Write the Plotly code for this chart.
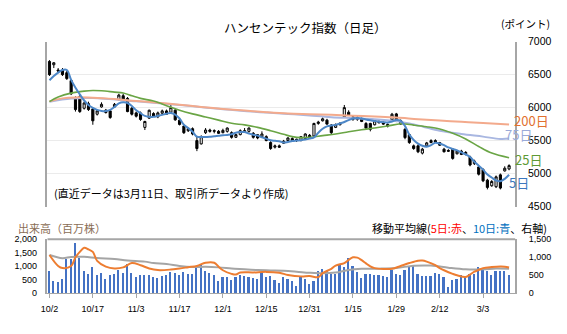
import plotly.graph_objects as go

# ---------------- data ----------------
tick_idx = [0, 10, 20, 30, 40, 50, 60, 70, 80, 90, 100]
tick_text = ["10/2", "10/17", "11/3", "11/17", "12/1", "12/15", "12/31", "1/15", "1/29", "2/12", "3/3"]

opens = [6700, 6650, 6570, 6570, 6530, 6410, 6150, 6170, 5990, 6060,
         5980, 5900, 6010, 5960, 5950, 6010, 6120, 6180, 6140, 5990,
         5920, 5920, 5700, 5840, 5910, 5860, 5915, 5950, 5930, 5960,
         5810, 5720, 5650, 5680, 5500, 5450, 5620, 5660, 5640, 5640,
         5620, 5640, 5620, 5550, 5590, 5650, 5640, 5610, 5590, 5560,
         5560, 5470, 5400, 5420, 5460, 5500, 5530, 5500, 5500, 5530,
         5580, 5570, 5760, 5800, 5810, 5735, 5700, 5740, 5860, 5930,
         5860, 5820, 5830, 5760, 5760, 5740, 5790, 5770, 5745, 5815,
         5905, 5800, 5670, 5590, 5420, 5420, 5310, 5420, 5470, 5500,
         5470, 5370, 5350, 5370, 5300, 5340, 5300, 5250, 5150, 5100,
         5060, 4900, 4815, 4800, 4980, 5040, 5070]
highs = [6720, 6690, 6600, 6600, 6560, 6430, 6170, 6190, 6090, 6090,
         6000, 5970, 6080, 5980, 5965, 6070, 6210, 6210, 6160, 6010,
         5940, 5940, 5800, 5970, 5930, 5940, 5970, 5970, 6040, 5980,
         5830, 5730, 5700, 5700, 5560, 5580, 5690, 5680, 5670, 5660,
         5680, 5700, 5640, 5600, 5670, 5690, 5700, 5630, 5600, 5640,
         5580, 5490, 5440, 5440, 5510, 5550, 5550, 5530, 5570, 5610,
         5600, 5770, 5800, 5850, 5830, 5750, 5760, 5780, 6040, 5960,
         5880, 5870, 5850, 5780, 5770, 5820, 5810, 5790, 5760, 5920,
         5920, 5820, 5690, 5600, 5440, 5440, 5390, 5480, 5520, 5520,
         5480, 5390, 5370, 5380, 5360, 5360, 5340, 5270, 5210, 5120,
         5080, 4920, 4900, 4970, 5000, 5110, 5140]
lows = [6480, 6600, 6530, 6480, 6420, 6190, 5940, 5920, 5970, 5950,
        5740, 5880, 6000, 5910, 5830, 6000, 6110, 6110, 5930, 5880,
        5850, 5800, 5660, 5830, 5860, 5840, 5900, 5890, 5920, 5800,
        5730, 5600, 5630, 5580, 5340, 5440, 5600, 5620, 5610, 5600,
        5610, 5620, 5530, 5540, 5580, 5620, 5620, 5530, 5520, 5540,
        5490, 5360, 5380, 5390, 5450, 5490, 5490, 5480, 5490, 5520,
        5530, 5560, 5740, 5790, 5740, 5600, 5690, 5730, 5850, 5880,
        5800, 5800, 5780, 5680, 5640, 5730, 5760, 5740, 5700, 5800,
        5780, 5740, 5520, 5450, 5360, 5310, 5290, 5410, 5460, 5470,
        5420, 5320, 5330, 5210, 5290, 5280, 5275, 5110, 5130, 4970,
        4870, 4760, 4800, 4780, 4760, 5030, 5050]
closes = [6500, 6680, 6555, 6500, 6440, 6210, 5970, 5940, 6070, 5970,
          5800, 5950, 6050, 5925, 5850, 6050, 6190, 6130, 5940, 5900,
          5870, 5820, 5790, 5960, 5870, 5920, 5950, 5900, 6000, 5815,
          5745, 5620, 5680, 5600, 5380, 5560, 5660, 5640, 5650, 5610,
          5655, 5690, 5550, 5590, 5650, 5640, 5690, 5550, 5540, 5600,
          5500, 5380, 5420, 5400, 5490, 5540, 5500, 5520, 5560, 5600,
          5550, 5760, 5780, 5830, 5750, 5620, 5740, 5760, 6000, 5890,
          5820, 5850, 5790, 5690, 5670, 5800, 5770, 5750, 5720, 5900,
          5790, 5750, 5545, 5470, 5380, 5330, 5370, 5465, 5500, 5480,
          5430, 5330, 5340, 5230, 5340, 5290, 5320, 5130, 5190, 4990,
          4890, 4790, 4880, 4950, 4780, 5080, 5120]

ma5 = [6415, 6480, 6530, 6570, 6570, 6420, 6300, 6200, 6108, 6040,
       5995, 5965, 5950, 5947, 5965, 6010, 6064, 6080, 6070, 6025,
       5960, 5915, 5875, 5862, 5860, 5874, 5890, 5908, 5920, 5895,
       5835, 5740, 5690, 5635, 5560, 5553, 5555, 5557, 5565, 5572,
       5580, 5586, 5595, 5620, 5630, 5630, 5605, 5590, 5575, 5550,
       5530, 5505, 5496, 5490, 5470, 5480, 5494, 5500, 5505, 5515,
       5530, 5550, 5620, 5680, 5715, 5728, 5738, 5760, 5782, 5810,
       5835, 5843, 5835, 5820, 5808, 5798, 5787, 5780, 5773, 5790,
       5812, 5800, 5720, 5590, 5510, 5455, 5421, 5408, 5430, 5468,
       5455, 5430, 5396, 5372, 5352, 5320, 5290, 5250, 5180, 5120,
       5060, 4985, 4940, 4895, 4885, 4920, 4982]

ma25_idx = [0, 2, 5, 8, 10, 12, 15, 17, 19, 21, 24, 26, 28, 30, 33, 36, 39, 42, 45, 48,
            51, 54, 56, 58, 60, 63, 66, 69, 72, 75, 78, 81, 84, 87, 90, 93, 96, 99, 102, 106]
ma25 = [6090, 6160, 6220, 6250, 6260, 6255, 6235, 6222, 6180, 6140, 6100, 6054, 6006, 5960,
        5905, 5858, 5810, 5762, 5738, 5700, 5650, 5595, 5560, 5545, 5550, 5575, 5600, 5635,
        5665, 5690, 5720, 5755, 5735, 5710, 5675, 5610, 5525, 5410, 5310, 5240]

ma75_idx = [0, 5, 10, 20, 30, 40, 50, 55, 60, 65, 70, 75, 80, 83, 86, 90, 95, 100, 104, 106]
ma75 = [6090, 6140, 6145, 6095, 6040, 5975, 5925, 5905, 5880, 5855, 5840, 5825, 5795,
        5760, 5715, 5650, 5600, 5560, 5525, 5530]

ma200_idx = [0, 3, 6, 10, 15, 20, 25, 30, 35, 40, 45, 50, 55, 60, 65, 70, 75, 80, 85, 90, 95, 100, 106]
ma200 = [6095, 6140, 6155, 6150, 6130, 6100, 6075, 6045, 6010, 5980, 5955, 5930, 5910,
         5900, 5890, 5878, 5865, 5850, 5825, 5805, 5785, 5765, 5745]

volume = [830, 450, 390, 535, 1270, 1250, 1840, 1310, 800, 700,
          975, 655, 750, 510, 655, 715, 870, 725, 1060, 750,
          605, 680, 655, 680, 595, 560, 630, 680, 770, 735,
          655, 770, 700, 700, 985, 1045, 820, 735, 680, 430,
          605, 605, 485, 575, 680, 620, 595, 560, 535, 770,
          580, 620, 490, 380, 600, 520, 430, 270, 595, 510,
          320, 440, 830, 890, 800, 715, 700, 1070, 975, 1310,
          1010, 770, 560, 690, 690, 655, 650, 620, 595, 860,
          715, 680, 860, 950, 1035, 690, 620, 620, 620, 750,
          690, 600, 235, 475, 510, 680, 575, 715, 715, 950,
          890, 800, 655, 830, 800, 800, 680]

vma5_idx = [0, 2, 3, 5, 6, 7, 8, 9, 10, 11, 13, 15, 17, 19, 21, 23, 25, 28, 30, 32, 34, 36,
            38, 39, 40, 42, 43, 44, 47, 50, 53, 55, 58, 60, 62, 63, 65, 66, 68, 69, 70, 71,
            72, 73, 74, 75, 77, 79, 81, 83, 85, 86, 87, 89, 90, 91, 93, 94, 96, 97, 98, 99,
            100, 102, 104, 105, 106]
vma5 = [1065, 760, 700, 760, 1000, 1150, 1265, 1220, 1150, 900, 740, 690, 720, 840, 780,
        690, 645, 660, 690, 725, 760, 850, 850, 740, 640, 540, 520, 575, 580, 595, 570,
        510, 470, 480, 450, 560, 680, 770, 840, 930, 1000, 990, 920, 830, 750, 700, 675,
        680, 760, 840, 905, 910, 880, 780, 700, 640, 540, 500, 455, 520, 600, 650, 700,
        730, 745, 740, 715]

vma10_idx = [0, 3, 5, 8, 11, 15, 18, 22, 24, 27, 30, 33, 36, 39, 42, 45, 48, 51, 54, 57,
             60, 63, 66, 69, 72, 76, 80, 84, 88, 92, 96, 100, 103, 106]
vma10 = [1065, 975, 1010, 1015, 980, 950, 910, 880, 840, 815, 760, 730, 735, 720, 690,
         665, 645, 635, 625, 600, 570, 555, 575, 650, 680, 685, 705, 765, 770, 710, 665,
         665, 690, 680]

# ---------------- figure ----------------
W, H = 567, 334
def px(x):
    return x / W
def py(y):
    return 1 - y / H

days = list(range(len(closes)))
xdom = [px(41), px(514.5)]
xr = [-0.456, 107.4]
TICKFONT = "Liberation Sans, Arial, sans-serif"
JP = "Noto Sans CJK JP, sans-serif"

fig = go.Figure()
fig.add_trace(go.Candlestick(
    x=days, open=opens, high=highs, low=lows, close=closes,
    increasing=dict(line=dict(color="#000000", width=1), fillcolor="#FFFFFF"),
    decreasing=dict(line=dict(color="#000000", width=1), fillcolor="#000000"),
    whiskerwidth=0, xaxis="x", yaxis="y", showlegend=False, hoverinfo="skip"))
fig.add_trace(go.Scatter(x=ma75_idx, y=ma75, mode="lines", xaxis="x", yaxis="y",
                         line=dict(color="#A9B7E1", width=2, shape="spline"), showlegend=False))
fig.add_trace(go.Scatter(x=ma200_idx, y=ma200, mode="lines", xaxis="x", yaxis="y",
                         line=dict(color="#F3AA8C", width=2, shape="spline"), showlegend=False))
fig.add_trace(go.Scatter(x=ma25_idx, y=ma25, mode="lines", xaxis="x", yaxis="y",
                         line=dict(color="#6AA545", width=1.6, shape="spline"), showlegend=False))
fig.add_trace(go.Scatter(x=days, y=ma5, mode="lines", xaxis="x", yaxis="y",
                         line=dict(color="#4D87C7", width=2, shape="spline"), showlegend=False))

fig.add_trace(go.Bar(x=days, y=volume, xaxis="x2", yaxis="y2", width=0.5,
                     marker=dict(color="#4472C4", line=dict(width=0)), showlegend=False))
fig.add_trace(go.Scatter(x=vma10_idx, y=vma10, mode="lines", xaxis="x2", yaxis="y3",
                         line=dict(color="#A5A5A5", width=2, shape="spline"), showlegend=False))
fig.add_trace(go.Scatter(x=vma5_idx, y=vma5, mode="lines", xaxis="x2", yaxis="y3",
                         line=dict(color="#ED7D31", width=2, shape="spline"), showlegend=False))

fig.update_layout(
    width=W, height=H, autosize=False,
    margin=dict(l=0, r=0, t=0, b=0, pad=0),
    paper_bgcolor="white", plot_bgcolor="white",
    showlegend=False, bargap=0,
    xaxis=dict(domain=xdom, range=xr, anchor="y", showticklabels=False, showgrid=False,
               zeroline=False, showline=False, ticks="", rangeslider=dict(visible=False)),
    yaxis=dict(domain=[py(208), py(37)], range=[4500, 7000], side="right", anchor="x",
               tickvals=[4500, 5000, 5500, 6000, 6500, 7000],
               ticktext=["4500", "5000", "5500", "6000", "6500", "7000"],
               showgrid=True, gridcolor="#EBEBEB", gridwidth=1, zeroline=False,
               showline=True, linecolor="#A6A6A6", linewidth=1.5, mirror=True, ticks="",
               tickfont=dict(family=TICKFONT, size=10.5, color="#000000"),
               ticklabelstandoff=9),
    xaxis2=dict(domain=xdom, range=xr, anchor="y2", tickvals=tick_idx, ticktext=tick_text,
                showgrid=False, zeroline=False, showline=True, linecolor="#A6A6A6", linewidth=1,
                ticks="outside", ticklen=4, tickcolor="#A6A6A6",
                tickfont=dict(family=TICKFONT, size=9, color="#000000"),
                ticklabelstandoff=3),
    yaxis2=dict(domain=[py(298), py(242)], range=[0, 2000], anchor="x2",
                tickvals=[0, 500, 1000, 1500, 2000], tickformat=",d",
                showgrid=False, zeroline=False, showline=True, linecolor="#A6A6A6",
                linewidth=1.5, ticks="",
                tickfont=dict(family=TICKFONT, size=9, color="#000000"),
                ticklabelstandoff=7),
    yaxis3=dict(range=[0, 1500], overlaying="y2", side="right", anchor="x2",
                tickvals=[0, 500, 1000, 1500], tickformat=",d",
                showgrid=False, zeroline=False, showline=True, linecolor="#A6A6A6",
                linewidth=1.5, ticks="",
                tickfont=dict(family=TICKFONT, size=9, color="#000000"),
                ticklabelstandoff=10),
)

# top border of volume panel
fig.add_shape(type="line", xref="paper", yref="paper", x0=xdom[0], x1=xdom[1],
              y0=py(242), y1=py(242), line=dict(color="#A6A6A6", width=2))

def note(text, x, y, size=11, color="#000000", xanchor="left", pad=1):
    fig.add_annotation(text=text, x=px(x), y=py(y), xref="paper", yref="paper",
                       showarrow=False, xanchor=xanchor, yanchor="middle", borderpad=pad,
                       font=dict(family=JP, size=size, color=color))

note("ハンセンテック指数（日足）", 302, 22, size=12.5, xanchor="center")
note("(ポイント)", 525, 18, size=10.5, xanchor="center")
note("(直近データは3月11日、取引所データより作成)", 46, 194, size=11)
note("出来高（百万株）", 9, 230, size=11, color="#8A6D55")
note("移動平均線(<span style='color:#FF0000'>5日:赤</span>、"
     "<span style='color:#0070C0'>10日:青</span>、右軸)", 549, 230, size=11, xanchor="right")
note("200日", 512, 119, size=13, color="#E2702F", pad=0)
note("75日", 503, 133.5, size=13, color="#9AAAD8", pad=0)
note("25日", 513, 159, size=13, color="#5E9A35", pad=0)
note("5日", 507, 183, size=13, color="#3C78BE", pad=0)

fig.write_html("out.html")
